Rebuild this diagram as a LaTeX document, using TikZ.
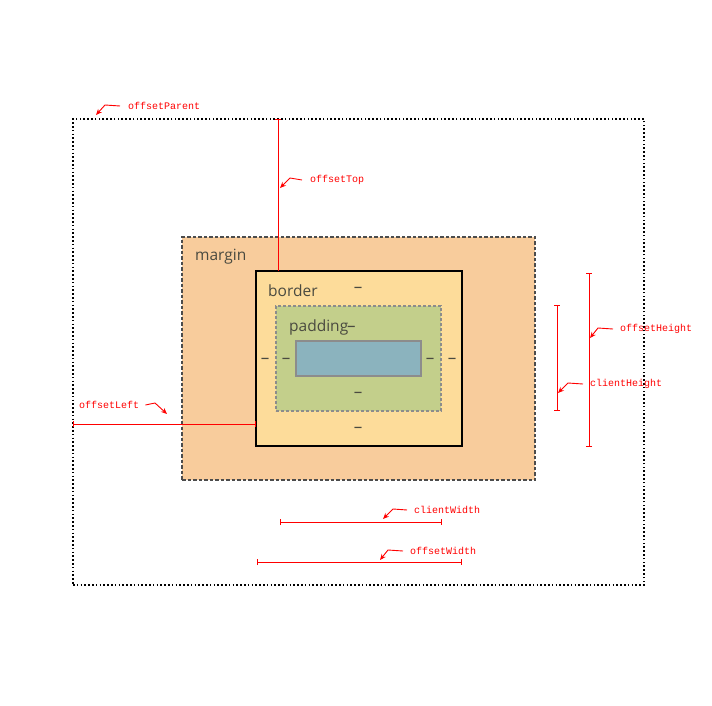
\documentclass[tikz,border=0pt]{standalone}
\usepackage{fontspec}
\setmainfont{Open Sans}
\newfontfamily\monolabel{Liberation Mono}
\usetikzlibrary{arrows.meta}
\definecolor{marginfill}{HTML}{F8CC9C}
\definecolor{borderfill}{HTML}{FDDC9A}
\definecolor{paddingfill}{HTML}{C3CF8B}
\definecolor{contentfill}{HTML}{8BB3BE}
\definecolor{boxtext}{HTML}{4A4A40}
\definecolor{redline}{HTML}{FF0000}

\tikzset{
  box/.style={inner sep=0pt, outer sep=0pt},
  measure/.style={redline, line width=1pt, {Bar[width=6pt,line width=1pt]}-{Bar[width=6pt,line width=1pt]}},
  pointer/.style={redline, line width=0.9pt, -{Stealth[length=6pt,width=5pt]}},
  redlabel/.style={text=redline, font=\monolabel\fontsize{10}{12}\selectfont, inner sep=0pt},
  boxlabel/.style={text=boxtext, font=\fontsize{15.5}{18}\selectfont, inner sep=0pt, anchor=west},
  dashlabel/.style={text=boxtext, font=\fontsize{17}{18}\selectfont, inner sep=0pt}
}

\begin{document}
\begin{tikzpicture}[x=1pt, y=-1pt]
    \useasboundingbox (0,0) rectangle (712,706);
    % nested boxes
    \node[box, draw=black, line width=1.6pt, dash pattern=on 1.6pt off 2.2pt,
          minimum width=571pt, minimum height=466pt] (parent) at (358.5,352) {};
    \node[box, fill=marginfill, draw=black!70, line width=1.2pt, dash pattern=on 3.5pt off 2pt,
          minimum width=353pt, minimum height=243pt] (margin) at (358.5,358.5) {};
    \node[box, fill=borderfill, draw=black, line width=1.4pt,
          minimum width=206pt, minimum height=175pt] (border) at (359,358.5) {};
    \node[box, fill=paddingfill, draw=black!45, line width=1.2pt, dash pattern=on 3pt off 2pt,
          minimum width=165pt, minimum height=105pt] (padding) at (358.5,358.5) {};
    \node[box, fill=contentfill, draw=black!45, line width=1.2pt,
          minimum width=125pt, minimum height=35pt] (content) at (358.5,358.5) {};

    \node[boxlabel] (m) at (195,257) {margin};
    \node[boxlabel] (b) at (268,291) {border};
    \node[boxlabel] (p) at (289,327) {padding\kern-1pt{\fontsize{17}{18}\selectfont–}};
    \node[dashlabel] (d1) at (358,290) {–};
    \node[dashlabel] (d2) at (265,361) {–};
    \node[dashlabel] (d3) at (286,361) {–};
    \node[dashlabel] (d4) at (430,361) {–};
    \node[dashlabel] (d5) at (452,361) {–};
    \node[dashlabel] (d6) at (358,395) {–};
    \node[dashlabel] (d7) at (358,430) {–};

    % measuring lines
    \coordinate (t1) at (278,119);
    \coordinate (t2) at (278,271);
    \coordinate (l1) at (73,424);
    \coordinate (l2) at (256,424);
    \coordinate (ch1) at (557,305);
    \coordinate (ch2) at (557,411);
    \coordinate (oh1) at (589,273);
    \coordinate (oh2) at (589,447);
    \coordinate (cw1) at (280,522);
    \coordinate (cw2) at (442,522);
    \coordinate (ow1) at (257,562);
    \coordinate (ow2) at (462,562);
    \draw[redline, line width=1pt, {Bar[width=6pt,line width=1pt]}-] (t1) -- (t2);
    \draw[measure] (l1) -- (l2);
    \draw[measure] (ch1) -- (ch2);
    \draw[measure] (oh1) -- (oh2);
    \draw[measure] (cw1) -- (cw2);
    \draw[measure] (ow1) -- (ow2);

    % labels
    \node[redlabel, anchor=west] (par) at (128,106) {offsetParent};
    \node[redlabel, anchor=west] (top) at (310,180) {offsetTop};
    \node[redlabel, anchor=west] (lft) at (79,405) {offsetLeft};
    \node[redlabel, anchor=west] (oht) at (620,329) {offsetHeight};
    \node[redlabel, anchor=west] (cht) at (590,384) {clientHeight};
    \node[redlabel, anchor=west] (cwd) at (414,510) {clientWidth};
    \node[redlabel, anchor=west] (owd) at (410,551) {offsetWidth};

    % pointers
    \coordinate (parb) at (105,105);  \coordinate (part) at (96,115);
    \coordinate (topb) at (290,178);  \coordinate (topt) at (280,188);
    \coordinate (lftb) at (155,403);  \coordinate (lftt) at (167,414);
    \coordinate (ohtb) at (598,328);  \coordinate (ohtt) at (590,338);
    \coordinate (chtb) at (568,383);  \coordinate (chtt) at (558,393);
    \coordinate (cwdb) at (393,509);  \coordinate (cwdt) at (383,519);
    \coordinate (owdb) at (388,550);  \coordinate (owdt) at (380,560);
    \draw[pointer] ([xshift=-8pt]par.west) -- (parb) -- (part);
    \draw[pointer] ([xshift=-8pt]top.west) -- (topb) -- (topt);
    \draw[pointer] ([xshift=6pt]lft.east) -- (lftb) -- (lftt);
    \draw[pointer] ([xshift=-7pt]oht.west) -- (ohtb) -- (ohtt);
    \draw[pointer] ([xshift=-7pt]cht.west) -- (chtb) -- (chtt);
    \draw[pointer] ([xshift=-7pt]cwd.west) -- (cwdb) -- (cwdt);
    \draw[pointer] ([xshift=-7pt]owd.west) -- (owdb) -- (owdt);
\end{tikzpicture}
\end{document}
